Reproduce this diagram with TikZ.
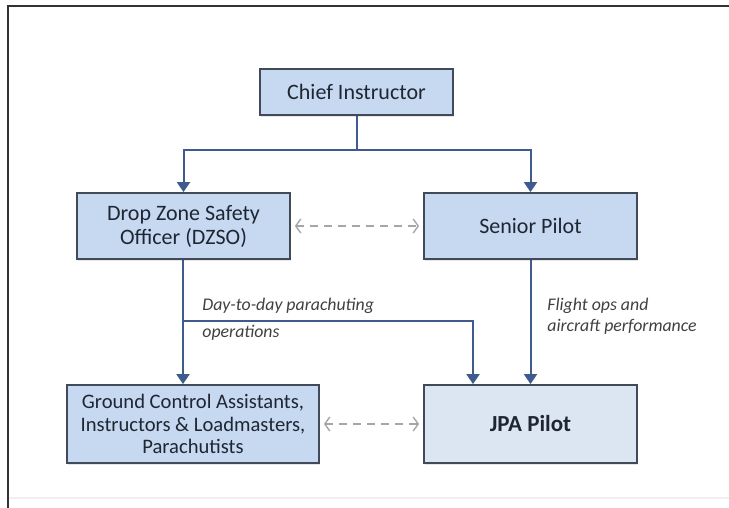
\documentclass[tikz,border=0pt]{standalone}
\usepackage{fontspec}
\setmainfont{Carlito}
\usepackage{tikz}
\usetikzlibrary{positioning,arrows.meta,shadows,calc}

\definecolor{boxfill}{HTML}{C6D9F0}
\definecolor{boxlite}{HTML}{DCE6F2}
\definecolor{boxedge}{HTML}{404A58}
\definecolor{linkblue}{HTML}{3E5A8E}
\definecolor{txt}{HTML}{1F2633}

\begin{document}
\begin{tikzpicture}[
    x=0.5pt, y=-0.5pt,
    role/.style={rectangle,draw=boxedge,line width=0.9pt,fill=boxfill,text=txt,
                 align=center,inner sep=2pt,font=\fontsize{11}{12}\selectfont,
                 drop shadow={shadow xshift=0.6pt,shadow yshift=-1pt,opacity=0.2}},
    link/.style={line width=1pt,draw=linkblue,-{Triangle[width=6.5pt,length=5pt]}},
    trunk/.style={line width=1pt,draw=linkblue},
    peer/.style={line width=0.7pt,draw=gray!70,dash pattern=on 4pt off 3pt,
                 {Straight Barb[length=2.5pt,width=7pt]}-{Straight Barb[length=2.5pt,width=7pt]},
                 shorten <=2pt,shorten >=2pt},
    note/.style={font=\itshape\fontsize{8.9}{10.5}\selectfont,text=black!75,align=left,anchor=west,inner sep=0pt}
]

\useasboundingbox (0,0) rectangle (729,508);

% frame of the page
\draw[gray!12,line width=0.8pt] (8,498) -- (729,498);
\draw[black!80,line width=1.3pt] (8,508) -- (8,6) -- (729,6);

% boxes
\node[role,minimum width=96.5pt,minimum height=23pt] (chief) at (356.5,92) {Chief Instructor};
\node[role,minimum width=106.5pt,minimum height=33pt] (dzso) at (183.5,226) {Drop Zone Safety\\Officer (DZSO)};
\node[role,minimum width=106.5pt,minimum height=33pt] (senior) at (530.5,226) {Senior Pilot};
\node[role,minimum width=126pt,minimum height=39pt,font=\fontsize{10.3}{11.3}\selectfont] (ground) at (193,424)
  {Ground Control Assistants,\\Instructors \& Loadmasters,\\Parachutists};
\node[role,fill=boxlite,minimum width=106.5pt,minimum height=39pt,font=\bfseries\fontsize{11.5}{12}\selectfont]
  (jpa) at (530.5,424) {JPA Pilot};

% chief instructor down to both leads
\coordinate (split) at (356.5,150);
\draw[trunk] (chief) -- (split);
\draw[link] (split) -| (dzso);
\draw[link] (split) -| (senior);

% DZSO line, with branch to the pilot
\coordinate (ops) at (183,321);
\draw[link] (dzso.south -| ops) -- (ground.north -| ops);
\draw[link] (ops) -| ([xshift=-28.75pt]jpa.north);
\draw[link] (senior) -- (jpa);

% peer links
\draw[peer] (dzso) -- (senior);
\draw[peer] (ground) -- (jpa);

% labels
\node[note] (opslab) at (202,319.5) {Day-to-day parachuting\\[3pt]operations};
\node[note] (flightlab) at (547,316.5) {Flight ops and\\aircraft performance};

\end{tikzpicture}
\end{document}
